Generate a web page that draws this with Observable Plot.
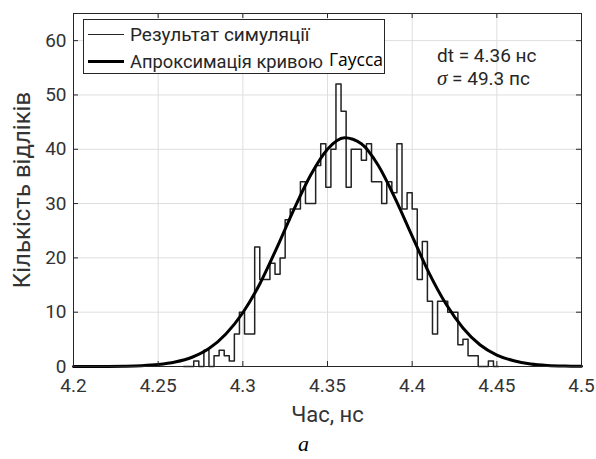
<!DOCTYPE html>
<html><head><meta charset="utf-8">
<script src="https://cdn.jsdelivr.net/npm/d3@7"></script>
<script src="https://cdn.jsdelivr.net/npm/@observablehq/plot@0.6"></script>
<style>
body{margin:0;background:#fff;}
#wrap{position:relative;width:596px;height:459px;font-family:Roboto,sans-serif;color:#262626;}
#legend{position:absolute;left:83px;top:19px;width:302px;height:55px;border:1px solid #262626;background:#fff;box-sizing:border-box;}
.row{position:absolute;left:0;height:22px;width:100%;}
.sample{position:absolute;left:4px;width:36px;background:#262626;}
.lt{position:absolute;left:46px;font-size:19px;white-space:nowrap;line-height:22px;}
.ann{position:absolute;font-size:19px;white-space:nowrap;line-height:20px;}
</style></head><body><div id="wrap"></div>
<script>
// histogram: bin start, bin width and counts per bin
const binStart = 4.265;
const binWidth = 0.003;
const counts = [0,0,1,0,3,0,2,3,2,1,6,10,6,6,22,16,16,19,17,20,27,29,29,34,30,30,37,41,33,40,52,47,33,40,40,38,41,34,34,30,34,32,41,29,32,29,16,23,12,6,12,12,10,10,4,5,2,2,0,0,1,0];
// Gaussian fit curve
const fitX = [4.20,4.21,4.22,4.23,4.24,4.25,4.26,4.27,4.28,4.29,4.30,4.31,4.32,4.33,4.34,4.35,4.36,4.37,4.38,4.39,4.40,4.41,4.42,4.43,4.44,4.45,4.46,4.47,4.48,4.49,4.50];
const fitY = [0.00,0.01,0.02,0.06,0.15,0.36,0.82,1.7,3.3,6.0,9.9,15.2,21.8,28.8,35.2,40.0,42.1,41.0,37.0,30.9,24.0,17.2,11.5,7.1,4.0,2.1,1.05,0.47,0.20,0.08,0.03];
const xTicks = [4.2,4.25,4.3,4.35,4.4,4.45,4.5];
const yTicks = [0,10,20,30,40,50,60];
const legendLabels = ["Результат симуляції","Апроксимація кривою","Гаусса"];
const annDt = "dt = 4.36 нс";
const annSigma = "= 49.3 пс";

const stairs = [{x: binStart, y: 0}];
counts.forEach((c, i) => stairs.push({x: binStart + i * binWidth, y: c}));
stairs.push({x: binStart + counts.length * binWidth, y: 0});
const fit = fitX.map((x, i) => ({x, y: fitY[i]}));

const W = 596, H = 459, mT = 13, mL = 73, mR = 15, mB = 93;
const innerW = W - mL - mR, innerH = H - mT - mB, tk = 5;
const ink = "#262626";

const chart = Plot.plot({
  width: W, height: H, marginTop: mT, marginLeft: mL, marginRight: mR, marginBottom: mB,
  style: {fontFamily: "Roboto, sans-serif", fontSize: "19px", color: ink, background: "#fff"},
  x: {domain: [4.2, 4.5]},
  y: {domain: [0, 65]},
  marks: [
    Plot.gridX(xTicks, {stroke: "#dedede", strokeOpacity: 1}),
    Plot.gridY(yTicks, {stroke: "#dedede", strokeOpacity: 1}),
    Plot.line(stairs, {x: "x", y: "y", curve: "step-after", stroke: "#222", strokeWidth: 1.5}),
    Plot.line(fit, {x: "x", y: "y", curve: "monotone-x", stroke: "#000", strokeWidth: 3}),
    Plot.frame({stroke: ink}),
    Plot.ruleX(xTicks, {insetTop: innerH - tk, stroke: ink}),
    Plot.ruleX(xTicks, {insetBottom: innerH - tk, stroke: ink}),
    Plot.ruleY(yTicks, {insetRight: innerW - tk, stroke: ink}),
    Plot.ruleY(yTicks, {insetLeft: innerW - tk, stroke: ink}),
    Plot.axisX(xTicks, {tickSize: 0, tickPadding: 12, tickFormat: d => String(+d.toFixed(2)), label: null, fontSize: 19, fill: "#333"}),
    Plot.axisY(yTicks, {tickSize: 0, tickPadding: 7, label: null, fontSize: 19, fill: "#333"}),
    Plot.text(["Час, нс"], {frameAnchor: "bottom", dy: 55, fontSize: 22, fill: "#333"}),
    Plot.text(["Кількість відліків"], {frameAnchor: "left", textAnchor: "middle", dx: -51, rotate: -90, fontSize: 24, fill: "#333"}),
    Plot.text(["а"], {frameAnchor: "bottom", dx: -24, dy: 84, fontSize: 22, fontStyle: "italic", fontFamily: "Liberation Serif", fill: "#000"})
  ]
});
const wrap = document.getElementById("wrap");
wrap.appendChild(chart);

const lg = document.createElement("div");
lg.id = "legend";
lg.innerHTML =
  `<div class="row" style="top:4px"><div class="sample" style="top:10px;height:1.3px"></div><div class="lt">${legendLabels[0]}</div></div>` +
  `<div class="row" style="top:31px"><div class="sample" style="top:9px;height:3px;background:#000"></div><div class="lt" style="font-size:18.3px">${legendLabels[1]}</div><div class="lt" style="left:245px;top:-3px;font-family:'Open Sans',sans-serif;font-size:17.5px;color:#000">${legendLabels[2]}</div></div>`;
wrap.appendChild(lg);

const a1 = document.createElement("div");
a1.className = "ann"; a1.style.left = "437px"; a1.style.top = "46px";
a1.textContent = annDt;
wrap.appendChild(a1);
const a2 = document.createElement("div");
a2.className = "ann"; a2.style.left = "437px"; a2.style.top = "68px";
a2.innerHTML = `<span style="font-family:'Liberation Serif',serif;font-style:italic;font-size:21px">σ</span> ${annSigma}`;
wrap.appendChild(a2);
</script>
</body></html>
